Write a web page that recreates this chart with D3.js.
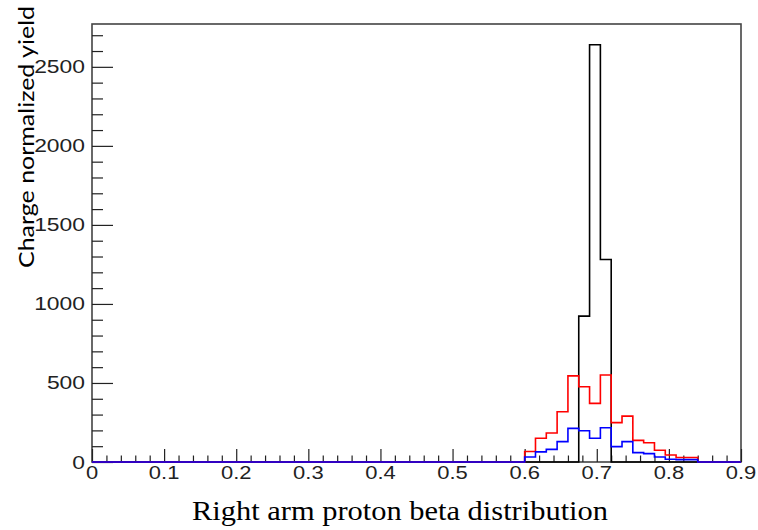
<!DOCTYPE html>
<html>
<head>
<meta charset="utf-8">
<script src="https://cdn.jsdelivr.net/npm/d3@7"></script>
<style>
  html, body { margin: 0; padding: 0; background: #fff; }
  svg { display: block; }
</style>
</head>
<body>
<svg id="chart" width="758" height="530"></svg>
<script>
// Histogram range and lower bin edges of the populated region (bin width 0.015)
const histRange = [0, 0.9];
const binLow = [0.600, 0.615, 0.630, 0.645, 0.660, 0.675, 0.690, 0.705,
                0.720, 0.735, 0.750, 0.765, 0.780, 0.795, 0.810, 0.825];
const binHigh = 0.840;

// Charge-normalized yields per bin
const blackYield = [0, 0, 0, 0, 0, 923, 2640, 1281, 0, 0, 0, 0, 0, 0, 0, 0];
const redYield   = [66, 150, 183, 318, 545, 476, 371, 550, 249, 290, 137, 122, 74, 44, 28, 28];
const blueYield  = [32, 64, 80, 129, 213, 198, 150, 217, 97, 129, 59, 53, 32, 17, 15, 15];

// Axis tick labels
const xTickValues = [0, 0.1, 0.2, 0.3, 0.4, 0.5, 0.6, 0.7, 0.8, 0.9];
const yTickValues = [0, 500, 1000, 1500, 2000, 2500];
const yMax = 2771;

const xTitle = "Right arm proton beta distribution";
const yTitle = "Charge normalized yield";

const svg = d3.select("#chart");
const frame = { left: 92, right: 741, top: 24, bottom: 462 };

const x = d3.scaleLinear().domain(histRange).range([frame.left, frame.right]);
const y = d3.scaleLinear().domain([0, yMax]).range([frame.bottom, frame.top]);

// Frame
svg.append("rect")
  .attr("x", frame.left).attr("y", frame.top)
  .attr("width", frame.right - frame.left)
  .attr("height", frame.bottom - frame.top)
  .attr("fill", "none").attr("stroke", "#444").attr("stroke-width", 1.6);

// Y ticks: major every 500, minor every 100
const yAxis = d3.axisRight(y)
  .tickValues(d3.range(0, yMax, 100))
  .tickSizeOuter(0)
  .tickFormat("");
const yAxisG = svg.append("g").attr("transform", `translate(${frame.left},0)`).call(yAxis);
yAxisG.select(".domain").remove();
yAxisG.selectAll(".tick line")
  .attr("x2", d => (d % 500 === 0 ? 21 : 11))
  .attr("stroke", "#222").attr("stroke-width", 1.2);

// X ticks: major every 0.1, minor every 0.02
const xMinor = d3.range(0, 46).map(i => +(i * 0.02).toFixed(2)).filter(v => v <= 0.9);
const xAxis = d3.axisTop(x).tickValues(xMinor).tickSizeOuter(0).tickFormat("");
const xAxisG = svg.append("g").attr("transform", `translate(0,${frame.bottom})`).call(xAxis);
xAxisG.select(".domain").remove();
xAxisG.selectAll(".tick line")
  .attr("y2", d => (Math.abs(d * 10 - Math.round(d * 10)) < 1e-6 ? -13 : -6.5))
  .attr("stroke", "#222").attr("stroke-width", 1.2);

// Tick labels (horizontally widened sans-serif)
const labelFont = "'Liberation Sans', Arial, Helvetica, sans-serif";
svg.append("g").selectAll("text").data(yTickValues).join("text")
  .attr("transform", d => `translate(85,${y(d) + 6.5}) scale(1.27,1)`)
  .attr("text-anchor", "end")
  .attr("font-family", labelFont).attr("font-size", 18).attr("fill", "#222")
  .text(d => d);

svg.append("g").selectAll("text").data(xTickValues).join("text")
  .attr("transform", d => `translate(${x(d)},${479}) scale(1.22,1)`)
  .attr("text-anchor", "middle")
  .attr("font-family", labelFont).attr("font-size", 18).attr("fill", "#222")
  .text(d => d);

// Histogram outlines drawn as steps
function stepPoints(values) {
  const pts = [{ x: histRange[0], v: 0 }];
  binLow.forEach((b, i) => pts.push({ x: b, v: values[i] }));
  pts.push({ x: binHigh, v: 0 });
  pts.push({ x: histRange[1], v: 0 });
  return pts;
}
const stepLine = d3.line().x(d => x(d.x)).y(d => y(d.v)).curve(d3.curveStepAfter);

const series = [
  { values: blackYield, color: "#000" },
  { values: redYield, color: "#ff0000" },
  { values: blueYield, color: "#0000ff" }
];
svg.append("g").selectAll("path").data(series).join("path")
  .attr("d", d => stepLine(stepPoints(d.values)))
  .attr("fill", "none")
  .attr("stroke", d => d.color)
  .attr("stroke-width", 1.6);

// Axis titles
svg.append("text")
  .attr("transform", "translate(34,137) rotate(-90)")
  .attr("text-anchor", "middle")
  .attr("font-family", "Lato, 'Open Sans', sans-serif")
  .attr("font-size", 22).attr("fill", "#000")
  .attr("textLength", 262).attr("lengthAdjust", "spacingAndGlyphs")
  .text(yTitle);

svg.append("text")
  .attr("x", 400).attr("y", 520)
  .attr("text-anchor", "middle")
  .attr("font-family", "'Liberation Serif', 'DejaVu Serif', serif")
  .attr("font-size", 28).attr("fill", "#000")
  .attr("textLength", 416).attr("lengthAdjust", "spacingAndGlyphs")
  .text(xTitle);
</script>
</body>
</html>
